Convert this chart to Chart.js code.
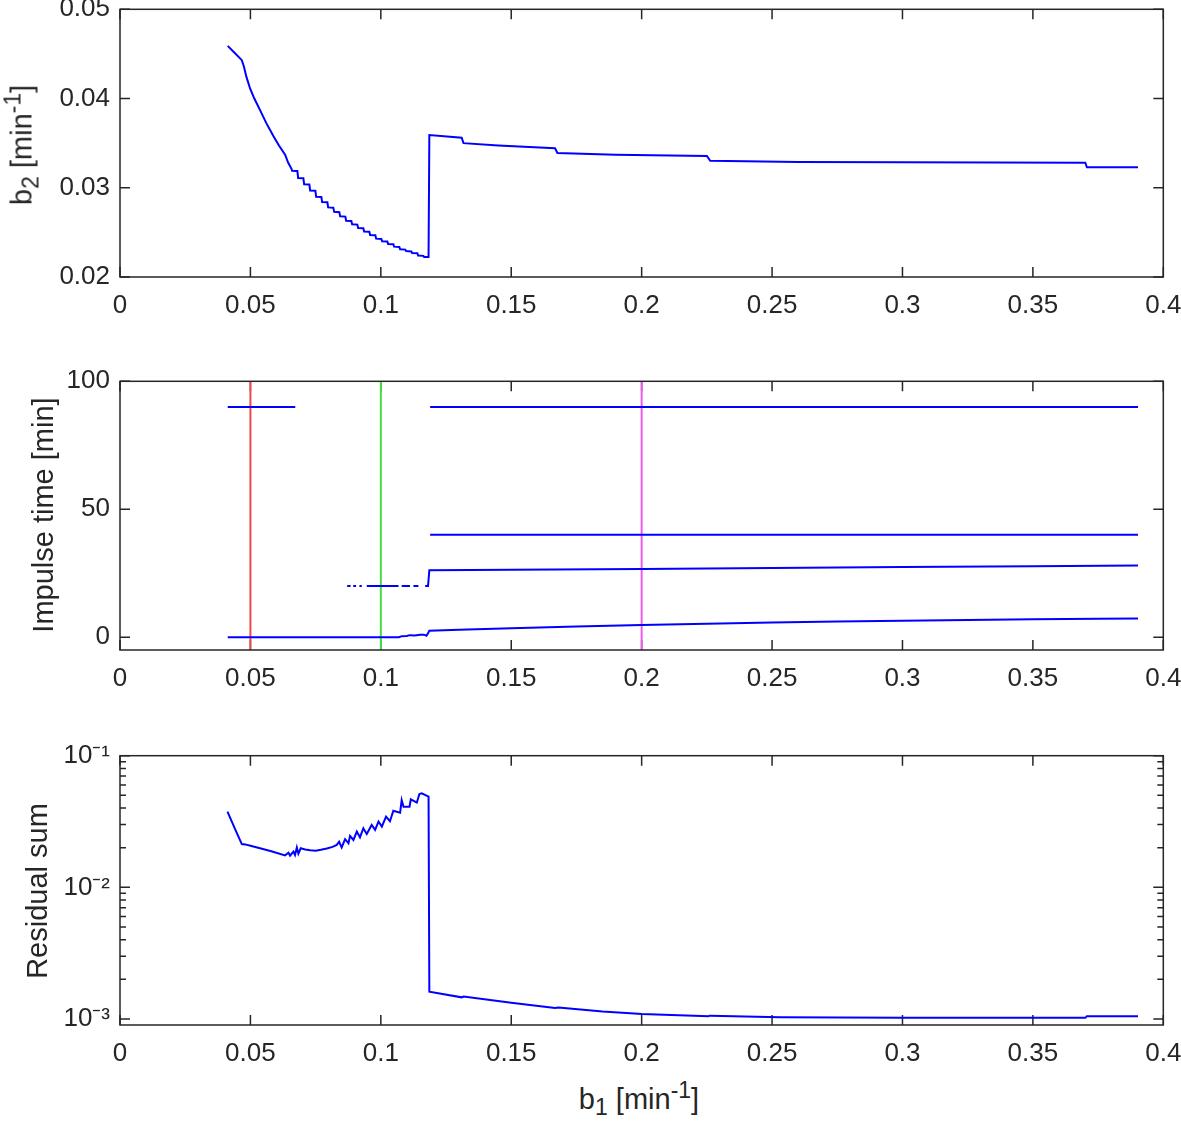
<!DOCTYPE html>
<html lang="en">
<head>
  <meta charset="UTF-8">
  <title>b1 sweep</title>
  <script src="https://cdn.jsdelivr.net/npm/chart.js"></script>
  <style>
    body { margin: 0; background: #fff; }
    #page { position: relative; width: 1181px; height: 1124px; font-family: "Liberation Sans", Arial, sans-serif; color: #262626; }
    .plot { position: absolute; left: 0; width: 1181px; }
    .lbl { position: absolute; font-size: 29px; white-space: nowrap; transform: translate(-50%, -50%); }
    .rot { transform: translate(-50%, -50%) rotate(-90deg); }
    sub, sup { font-size: 23px; line-height: 0; }
  </style>
</head>
<body>
<div id="page">
  <div class="plot" style="top:0;height:320px"><canvas id="c1"></canvas></div>
  <div class="plot" style="top:370px;height:330px"><canvas id="c2"></canvas></div>
  <div class="plot" style="top:740px;height:330px"><canvas id="c3"></canvas></div>

  <div class="lbl rot" style="left:22px;top:145px">b<sub>2</sub> [min<sup>-1</sup>]</div>
  <div class="lbl rot" style="left:43px;top:515px">Impulse time [min]</div>
  <div class="lbl rot" style="left:37px;top:891px">Residual sum</div>
  <div class="lbl" style="left:639px;top:1099px">b<sub>1</sub> [min<sup>-1</sup>]</div>
</div>

<script>
  // tick values
  const xTicks = [0, 0.05, 0.1, 0.15, 0.2, 0.25, 0.3, 0.35, 0.4];
  const b2Ticks = [0.02, 0.03, 0.04, 0.05];
  const impTicks = [0, 50, 100];
  const resMajor = [0.001, 0.01, 0.1];
  const resMajorLabels = ['10\u207B\u00B3', '10\u207B\u00B2', '10\u207B\u00B9'];
  const resTicks = [0.001, 0.002, 0.003, 0.004, 0.005, 0.006, 0.007, 0.008, 0.009,
                    0.01, 0.02, 0.03, 0.04, 0.05, 0.06, 0.07, 0.08, 0.09, 0.1];

  // top panel: b2 vs b1
  const b2X = [0.0413, 0.0440, 0.0467, 0.0475, 0.0485, 0.0499, 0.0515, 0.0537, 0.0560, 0.0588,
               0.0610, 0.0633, 0.0645, 0.0658,
               0.0660, 0.0680, 0.0683, 0.0703, 0.0706, 0.0726, 0.0729, 0.0749, 0.0752, 0.0772,
               0.0775, 0.0795, 0.0798, 0.0818, 0.0821, 0.0841, 0.0844, 0.0864, 0.0867, 0.0887,
               0.0890, 0.0910, 0.0913, 0.0933, 0.0936, 0.0956, 0.0959, 0.0979, 0.0982, 0.1002,
               0.1005, 0.1025, 0.1028, 0.1048, 0.1051, 0.1071, 0.1074, 0.1094, 0.1097, 0.1117,
               0.1120, 0.1140, 0.1143, 0.1163, 0.1166, 0.1183,
               0.1186, 0.1310, 0.1317, 0.1450, 0.1668, 0.1677, 0.1900, 0.2250, 0.2263, 0.2600,
               0.3000, 0.3701, 0.3707, 0.3903];
  const b2Y = [0.0459, 0.0451, 0.0443, 0.0436, 0.0424, 0.0411, 0.0400, 0.0387, 0.0373, 0.0358,
               0.0347, 0.0337, 0.0328, 0.0321,
               0.0319, 0.03187, 0.0311, 0.03107, 0.0304, 0.03037, 0.0297, 0.02967, 0.0290, 0.02897,
               0.0284, 0.02837, 0.0278, 0.02777, 0.0273, 0.02727, 0.0268, 0.02677, 0.0263, 0.02627,
               0.0259, 0.02587, 0.0255, 0.02547, 0.0251, 0.02507, 0.0247, 0.02467, 0.0243, 0.02427,
               0.0240, 0.02397, 0.0237, 0.02367, 0.0234, 0.02337, 0.0231, 0.02307, 0.0229, 0.02287,
               0.0227, 0.02267, 0.0224, 0.02237, 0.02225, 0.02225,
               0.0359, 0.03561, 0.0350, 0.03475, 0.03442, 0.03390, 0.03370, 0.03356, 0.03302, 0.03290,
               0.03285, 0.03280, 0.03230, 0.03230];

  // middle panel: impulse times
  const imp90aX = [0.0413, 0.0672];
  const imp90aY = [90, 90];
  const imp90bX = [0.1189, 0.3903];
  const imp90bY = [90, 90];
  const imp40X = [0.1189, 0.3903];
  const imp40Y = [40, 40];
  const imp20X = [0.0871, 0.0884, 0.0889, 0.0894, 0.0905, 0.0911, 0.0918, 0.0927, 0.0936,
                  0.0946, 0.1068, 0.1074, 0.1080, 0.1112, 0.1118, 0.1125, 0.1144, 0.1157,
                  0.1170, 0.1181, 0.1186, 0.1500, 0.2000, 0.2500, 0.3000, 0.3500, 0.3903];
  const imp20Y = [20, 20, null, 20, 20, null, 20, 20, null,
                  20, 20, null, 20, 20, null, 20, 20, null,
                  20, 20, 26.2, 26.4, 26.7, 27.0, 27.4, 27.7, 28.0];
  const imp0X = [0.0413, 0.1070, 0.1080, 0.1100, 0.1110, 0.1130, 0.1150, 0.1165, 0.1175, 0.1180,
                 0.1186, 0.1300, 0.1500, 0.1750, 0.2000, 0.2250, 0.2500, 0.2750, 0.3000,
                 0.3250, 0.3500, 0.3750, 0.3903];
  const imp0Y = [0, 0, 0.4, 0.5, 0.8, 0.7, 1.0, 1.0, 0.6, 1.4,
                 2.5, 2.9, 3.5, 4.2, 4.8, 5.3, 5.7, 6.1, 6.4,
                 6.7, 7.0, 7.2, 7.3];
  const markX = [0.05, 0.1, 0.2];
  const markColors = ['#f44a4a', '#44dd44', '#ee5cee'];

  // bottom panel: residual sum
  const resX = [0.0412, 0.0440, 0.0467, 0.0480, 0.0500, 0.0537, 0.0580, 0.0633, 0.0646, 0.0652,
                0.0665, 0.0671, 0.0678, 0.0684, 0.0693, 0.0710, 0.0729, 0.0750, 0.0770, 0.0793,
                0.0815, 0.0831, 0.0840, 0.0850, 0.0863, 0.0876, 0.0882, 0.0895, 0.0908, 0.0920,
                0.0933, 0.0946, 0.0965, 0.0978, 0.0991, 0.1004, 0.1020, 0.1035, 0.1048, 0.1074,
                0.1080, 0.1087, 0.1110, 0.1115, 0.1138, 0.1148, 0.1157, 0.1183,
                0.1186, 0.1310, 0.1317, 0.1500, 0.1668, 0.1681, 0.1850, 0.2001, 0.2256, 0.2262,
                0.2531, 0.3004, 0.3701, 0.3707, 0.3903];
  const resY = [0.0376, 0.0280, 0.0213, 0.0212, 0.0207, 0.0198, 0.0188, 0.0175, 0.0183, 0.0174,
                0.0187, 0.0176, 0.0201, 0.0180, 0.0198, 0.0194, 0.0191, 0.0190, 0.0193, 0.0197,
                0.0203, 0.0210, 0.0222, 0.0201, 0.0232, 0.0216, 0.0246, 0.0229, 0.0265, 0.0240,
                0.0281, 0.0254, 0.0298, 0.0273, 0.0316, 0.0289, 0.0344, 0.0318, 0.0382, 0.0369,
                0.0460, 0.0410, 0.0410, 0.0466, 0.0440, 0.0512, 0.0518, 0.0489,
                0.00161, 0.00146, 0.00148, 0.00133, 0.00121, 0.00122, 0.00114, 0.00109, 0.00105, 0.00106,
                0.00103, 0.00102, 0.00102, 0.00105, 0.00105];

  const INK = '#262626';
  const BLUE = '#0000ff';
  const FONT = { family: '"Liberation Sans", Arial, sans-serif', size: 26 };

  const pts = (xs, ys) => xs.map((x, i) => ({ x: x, y: ys[i] }));
  const blueLine = (xs, ys) => ({ data: pts(xs, ys), borderColor: BLUE, borderWidth: 2,
                                  pointRadius: 0, tension: 0, spanGaps: false });

  // MATLAB style axes: inward tick marks under the data, box on top
  const matlabAxes = {
    id: 'matlabAxes',
    beforeDatasetsDraw(chart) {
      const { ctx, chartArea: a, scales: { x, y } } = chart;
      ctx.save();
      ctx.strokeStyle = INK;
      ctx.lineWidth = 1.5;
      ctx.beginPath();
      x.ticks.forEach(t => {
        const px = x.getPixelForValue(t.value);
        ctx.moveTo(px, a.bottom); ctx.lineTo(px, a.bottom - 10);
        ctx.moveTo(px, a.top); ctx.lineTo(px, a.top + 10);
      });
      y.ticks.forEach(t => {
        const py = y.getPixelForValue(t.value);
        const len = t.major === false ? 6 : 10;
        ctx.moveTo(a.left, py); ctx.lineTo(a.left + len, py);
        ctx.moveTo(a.right, py); ctx.lineTo(a.right - len, py);
      });
      ctx.stroke();
      ctx.restore();
    },
    afterDraw(chart) {
      const { ctx, chartArea: a } = chart;
      ctx.save();
      ctx.strokeStyle = INK;
      ctx.lineWidth = 1.5;
      ctx.strokeRect(a.left, a.top, a.right - a.left, a.bottom - a.top);
      ctx.restore();
    }
  };

  function xScale(h) {
    return {
      type: 'linear', min: 0, max: 0.4,
      afterBuildTicks: s => { s.ticks = xTicks.map(v => ({ value: v })); },
      afterFit: s => { s.height = h; s.paddingLeft = 0; s.paddingRight = 0; },
      ticks: { font: FONT, color: INK, padding: 13, maxRotation: 0, autoSkip: false,
               callback: v => String(v) },
      grid: { display: false, drawTicks: false },
      border: { display: false }
    };
  }

  function yScale(extra) {
    return Object.assign({
      afterFit: s => { s.width = 120; s.paddingTop = 0; s.paddingBottom = 0; },
      grid: { display: false, drawTicks: false },
      border: { display: false }
    }, extra);
  }

  function makeChart(id, datasets, padTop, xH, y) {
    return new Chart(document.getElementById(id), {
      type: 'line',
      data: { datasets: datasets },
      options: {
        responsive: true,
        maintainAspectRatio: false,
        animation: false,
        layout: { padding: { top: padTop, right: 17.7, left: 0, bottom: 0 } },
        plugins: { legend: { display: false }, tooltip: { enabled: false } },
        scales: { x: xScale(xH), y: y }
      },
      plugins: [matlabAxes]
    });
  }

  makeChart('c1', [blueLine(b2X, b2Y)], 9.3, 43, yScale({
    type: 'linear', min: 0.02, max: 0.05,
    afterBuildTicks: s => { s.ticks = b2Ticks.map(v => ({ value: v })); },
    ticks: { font: FONT, color: INK, padding: 10, callback: v => v.toFixed(2) }
  }));

  const marks = markX.map((m, i) => ({
    data: [{ x: m, y: -5 }, { x: m, y: 100 }], borderColor: markColors[i], borderWidth: 2, pointRadius: 0
  }));
  makeChart('c2', [
    blueLine(imp90aX, imp90aY), blueLine(imp90bX, imp90bY), blueLine(imp40X, imp40Y),
    blueLine(imp20X, imp20Y), blueLine(imp0X, imp0Y)
  ].concat(marks), 11.3, 50, yScale({
    type: 'linear', min: -5, max: 100,
    afterBuildTicks: s => { s.ticks = impTicks.map(v => ({ value: v })); },
    ticks: { font: FONT, color: INK, padding: 10, callback: v => String(v) }
  }));

  makeChart('c3', [blueLine(resX, resY)], 15.7, 45, yScale({
    type: 'logarithmic', min: 0.0009, max: 0.1,
    afterBuildTicks: s => { s.ticks = resTicks.map(v => ({ value: v, major: resMajor.includes(v) })); },
    ticks: { font: FONT, color: INK, padding: 10, autoSkip: false,
             callback: v => { const i = resMajor.indexOf(v); return i >= 0 ? resMajorLabels[i] : ''; } }
  }));
</script>
</body>
</html>
